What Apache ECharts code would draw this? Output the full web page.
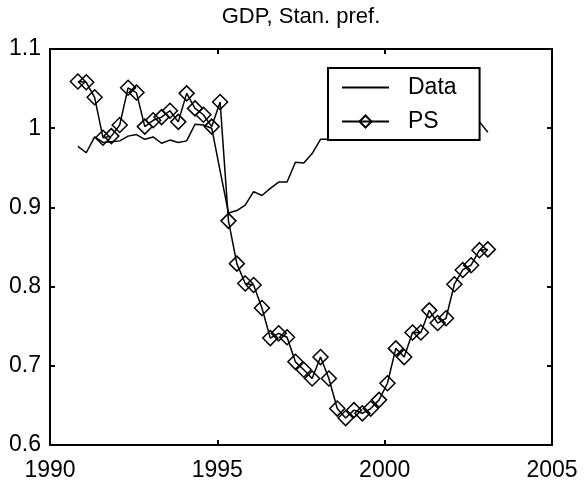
<!DOCTYPE html>
<html><head><meta charset="utf-8">
<script src="https://cdn.jsdelivr.net/npm/echarts@6/dist/echarts.min.js"></script>
<style>html,body{margin:0;padding:0;background:#fff}#c{width:585px;height:489px}</style>
</head><body><div id="c"></div>
<script>
const titleText = 'GDP, Stan. pref.';
const seriesNames = ['Data', 'PS'];
const xMin = 1990, xMax = 2005, xStep = 5;
const yMin = 0.6, yMax = 1.1, yStep = 0.1;

const quarterDates = [
  1990.833, 1991.083, 1991.333, 1991.583, 1991.833, 1992.083, 1992.333, 1992.583,
  1992.833, 1993.083, 1993.333, 1993.583, 1993.833, 1994.083, 1994.333, 1994.583,
  1994.833, 1995.083, 1995.333, 1995.583, 1995.833, 1996.083, 1996.333, 1996.583,
  1996.833, 1997.083, 1997.333, 1997.583, 1997.833, 1998.083, 1998.333, 1998.583,
  1998.833, 1999.083, 1999.333, 1999.583, 1999.833, 2000.083, 2000.333, 2000.583,
  2000.833, 2001.083, 2001.333, 2001.583, 2001.833, 2002.083, 2002.333, 2002.583,
  2002.833, 2003.083
];

const dataValues = [
  0.977, 0.969, 0.989, 0.982, 0.983, 0.984, 0.990, 0.992,
  0.986, 0.989, 0.981, 0.985, 0.982, 0.984, 1.005, 1.004,
  1.000, 0.946, 0.893, 0.896, 0.903, 0.920, 0.915, 0.924,
  0.932, 0.932, 0.957, 0.956, 0.968, 0.986, 0.986, 0.992,
  0.997, 1.002, 1.006, 1.010, 1.013, 1.016, 1.019, 1.021,
  1.023, 1.024, 1.022, 1.021, 1.020, 1.018, 1.016, 1.013,
  1.008, 0.995
];

const psValues = [
  1.059, 1.058, 1.039, 0.988, 0.990, 1.004, 1.051, 1.045,
  1.002, 1.010, 1.014, 1.022, 1.008, 1.044, 1.025, 1.017,
  1.002, 1.033, 0.883, 0.829, 0.804, 0.802, 0.773, 0.735,
  0.741, 0.736, 0.705, 0.695, 0.684, 0.711, 0.684, 0.646,
  0.634, 0.644, 0.640, 0.646, 0.657, 0.678, 0.722, 0.711,
  0.742, 0.742, 0.770, 0.754, 0.760, 0.803, 0.821, 0.827,
  0.846, 0.847
];

const FONT = 'Liberation Sans, Arial, Helvetica, sans-serif';
const pairs = (xs, ys) => xs.map((x, i) => [x, ys[i]]);

const axisBase = {
  type: 'value',
  axisLine: { show: true, onZero: false, lineStyle: { color: '#000', width: 2 } },
  axisTick: { show: true, inside: true, length: 5, lineStyle: { color: '#000', width: 2 } },
  splitLine: { show: false }
};

const chart = echarts.init(document.getElementById('c'), null, { renderer: 'canvas' });
chart.setOption({
  animation: false,
  backgroundColor: '#fff',
  title: {
    text: titleText, left: 301, textAlign: 'center', top: 6, padding: 0,
    textStyle: { fontFamily: FONT, fontSize: 22, fontWeight: 'normal', color: '#000' }
  },
  grid: { left: 50, right: 33, top: 49, bottom: 44, containLabel: false },
  xAxis: [
    Object.assign({}, axisBase, {
      min: xMin, max: xMax, interval: xStep, position: 'bottom',
      axisLabel: { margin: 14, fontFamily: FONT, fontSize: 23, color: '#000',
        formatter: v => String(v) }
    }),
    Object.assign({}, axisBase, {
      min: xMin, max: xMax, interval: xStep, position: 'top',
      axisLabel: { show: false }
    })
  ],
  yAxis: [
    Object.assign({}, axisBase, {
      min: yMin, max: yMax, interval: yStep, position: 'left',
      axisLabel: { margin: 9, fontFamily: FONT, fontSize: 23, color: '#000' }
    }),
    Object.assign({}, axisBase, {
      min: yMin, max: yMax, interval: yStep, position: 'right',
      axisLabel: { show: false }
    })
  ],
  legend: {
    orient: 'vertical', left: 328, top: 68,
    padding: [8, 23, 7, 13], itemGap: 11, itemWidth: 47, itemHeight: 15,
    backgroundColor: '#fff', borderColor: '#000', borderWidth: 2, borderRadius: 0,
    textStyle: { fontFamily: FONT, fontSize: 23, color: '#000', padding: [0, 0, 0, 14] },
    data: [
      { name: seriesNames[0], itemStyle: { opacity: 0 } },
      { name: seriesNames[1] }
    ]
  },
  series: [
    {
      name: seriesNames[0], type: 'line', data: pairs(quarterDates, dataValues),
      symbol: 'none', lineStyle: { color: '#000', width: 1.5 },
      itemStyle: { color: '#000' }, z: 2
    },
    {
      name: seriesNames[1], type: 'line', data: pairs(quarterDates, psValues),
      symbol: 'diamond', symbolSize: 15, showAllSymbol: true,
      lineStyle: { color: '#000', width: 1.5 },
      itemStyle: { color: 'rgba(255,255,255,0)', borderColor: '#000', borderWidth: 1.5 }, z: 3
    }
  ]
});
</script>
</body></html>
